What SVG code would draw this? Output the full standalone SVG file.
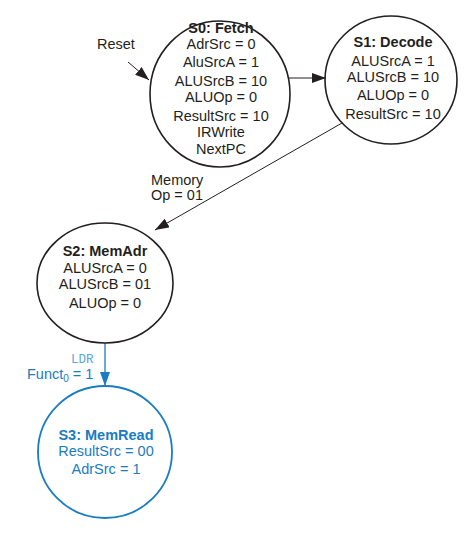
<svg xmlns="http://www.w3.org/2000/svg" width="471" height="539" viewBox="0 0 471 539">
<style>
text{font-family:"Liberation Sans",Arial,sans-serif;font-size:14.5px;fill:#231f20;text-anchor:middle}
.t{font-weight:bold}
.st{fill:none;stroke:#231f20;stroke-width:1.6}
.bl{fill:none;stroke:#1a7cc1;stroke-width:1.8}
.b text{fill:#1a7cc1}
.c{fill:none;stroke:#231f20;stroke-width:1}
.cb{fill:none;stroke:#1a7cc1;stroke-width:1.3}
.l{text-anchor:start}
</style>
<defs>
<marker id="ah" viewBox="0 0 14 10" refX="14" refY="5" markerWidth="14" markerHeight="10" markerUnits="userSpaceOnUse" orient="auto"><path d="M0,0 L14,5 L0,10 Z" fill="#231f20"/></marker>
<marker id="ahb" viewBox="0 0 14 10" refX="14" refY="5" markerWidth="14" markerHeight="10" markerUnits="userSpaceOnUse" orient="auto"><path d="M0,0 L14,5 L0,10 Z" fill="#1a7cc1"/></marker>
</defs>
<g id="connectors">
<line class="c" x1="128" y1="62" x2="149" y2="80" marker-end="url(#ah)"/>
<line class="c" x1="289" y1="78" x2="326" y2="78" marker-end="url(#ah)"/>
<line class="c" x1="342" y1="123" x2="155" y2="230" marker-end="url(#ah)"/>
<line class="cb" x1="105" y1="343" x2="105" y2="386" marker-end="url(#ahb)"/>
<text class="l" x="97" y="49">Reset</text>
<text class="l" x="151" y="185">Memory</text>
<text class="l" x="151" y="200">Op = 01</text>
<text class="l" x="71" y="363" style="font-family:'Liberation Mono','Courier New',monospace;font-size:12.5px;fill:#5aa6dc">LDR</text>
<text class="l" x="27" y="379" style="fill:#1a7cc1">Funct<tspan font-size="10" dy="3">0</tspan><tspan dy="-3"> = 1</tspan></text>
</g>
<g id="S0">
<ellipse class="st" cx="220" cy="94" rx="70" ry="73"/>
<text class="t" x="221" y="33">S0: Fetch</text>
<text x="221" y="49">AdrSrc = 0</text>
<text x="221" y="67">AluSrcA = 1</text>
<text x="221" y="86">ALUSrcB = 10</text>
<text x="221" y="102">ALUOp = 0</text>
<text x="221" y="121">ResultSrc = 10</text>
<text x="221" y="137">IRWrite</text>
<text x="221" y="154">NextPC</text>
</g>
<g id="S1">
<ellipse class="st" cx="391" cy="80" rx="66" ry="64"/>
<text class="t" x="393" y="47">S1: Decode</text>
<text x="393" y="66">ALUSrcA = 1</text>
<text x="393" y="82">ALUSrcB = 10</text>
<text x="393" y="100">ALUOp = 0</text>
<text x="393" y="119">ResultSrc = 10</text>
</g>
<g id="S2">
<ellipse class="st" cx="105" cy="283" rx="68" ry="60"/>
<text class="t" x="105" y="256">S2: MemAdr</text>
<text x="105" y="273">ALUSrcA = 0</text>
<text x="105" y="289">ALUSrcB = 01</text>
<text x="105" y="308">ALUOp = 0</text>
</g>
<g id="S3" class="b">
<ellipse class="bl" cx="105" cy="452" rx="67" ry="66"/>
<text class="t" x="106" y="440">S3: MemRead</text>
<text x="106" y="456">ResultSrc = 00</text>
<text x="106" y="474">AdrSrc = 1</text>
</g>
</svg>
